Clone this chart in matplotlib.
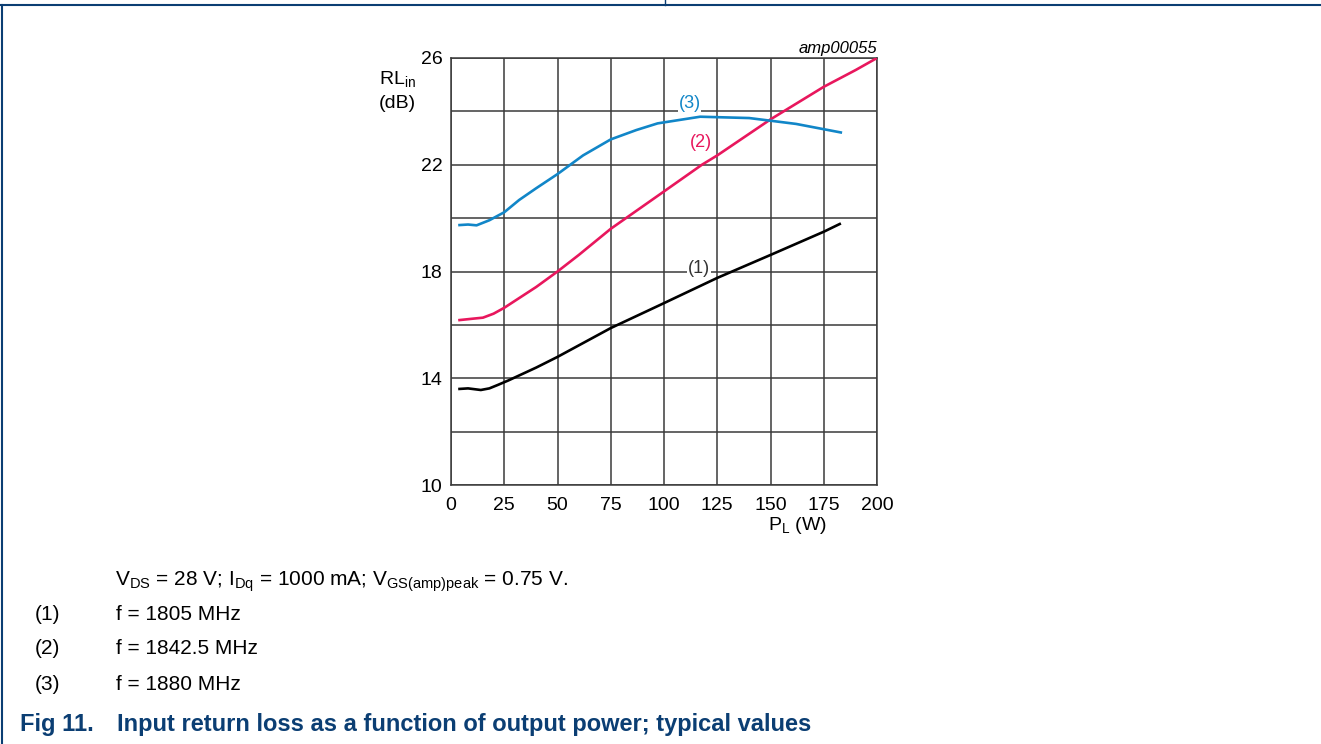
import matplotlib
matplotlib.use("Agg")
import matplotlib.pyplot as plt
from matplotlib.lines import Line2D

plt.rcParams["font.family"] = ["Liberation Sans", "DejaVu Sans"]
plt.rcParams["mathtext.fontset"] = "custom"
plt.rcParams["mathtext.rm"] = "Liberation Sans"
plt.rcParams["mathtext.it"] = "Liberation Sans:italic"

# Curves: P_L (W) vs RL_in (dB)
p1 = [4, 8, 14, 18, 22, 27, 40, 50, 75, 98, 125, 150, 175, 182.5]
rl1 = [13.6, 13.62, 13.56, 13.62, 13.75, 13.92, 14.4, 14.8, 15.88, 16.74, 17.76, 18.62, 19.49, 19.78]

p2 = [4, 10, 15, 20, 25, 30, 40, 50, 60, 75, 100, 117.8, 125, 150, 175, 190, 200]
rl2 = [16.18, 16.23, 16.27, 16.42, 16.64, 16.9, 17.42, 18.0, 18.62, 19.6, 21.0, 22.0, 22.35, 23.7, 24.92, 25.55, 26.0]

p3 = [4, 8, 12, 18, 25, 32, 40, 50, 56, 62, 75, 87, 97, 117, 140, 162, 183]
rl3 = [19.74, 19.76, 19.73, 19.92, 20.22, 20.68, 21.12, 21.65, 22.0, 22.35, 22.95, 23.3, 23.55, 23.8, 23.75, 23.53, 23.21]

x_ticks = [0, 25, 50, 75, 100, 125, 150, 175, 200]
y_ticks = [10, 14, 18, 22, 26]

navy = "#0b3e73"
c1, c2, c3 = "#000000", "#e8175d", "#1186c8"

fig = plt.figure(figsize=(13.21, 7.44), dpi=100)
ax = fig.add_axes([451 / 1321, 1 - 485 / 744, 426 / 1321, 427 / 744])

ax.plot(p1, rl1, color=c1, lw=1.9, zorder=3)
ax.plot(p2, rl2, color=c2, lw=1.9, zorder=3)
ax.plot(p3, rl3, color=c3, lw=1.9, zorder=3)

ax.set_xlim(0, 200)
ax.set_ylim(10, 26)
ax.set_xticks(x_ticks)
ax.set_yticks(y_ticks)
ax.set_yticks(range(10, 27, 2), minor=True)
ax.grid(True, which="both", color="#3a3a3a", lw=1.1)
ax.set_axisbelow(True)
ax.tick_params(length=0, labelsize=14, pad=6, which="both")
ax.tick_params(axis="x", pad=9)
for s in ax.spines.values():
    s.set_color("#3a3a3a")
    s.set_linewidth(1.1)

# curve labels
bb = dict(facecolor="white", edgecolor="none", pad=0.5)
ax.text(116.5, 18.1, "(1)", color="#333333", fontsize=13, ha="center", va="center", bbox=bb, zorder=4)
ax.text(117.5, 22.85, "(2)", color=c2, fontsize=13, ha="center", va="center", zorder=4)
ax.text(112, 24.3, "(3)", color=c3, fontsize=13, ha="center", va="center", bbox=bb, zorder=4)

fig.text(416 / 1321, 1 - 79 / 744, r"RL$_\mathregular{in}$", fontsize=14, ha="right", va="center")
fig.text(416 / 1321, 1 - 103 / 744, "(dB)", fontsize=14, ha="right", va="center")
fig.text(877 / 1321, 1 - 48 / 744, "amp00055", fontsize=12, style="italic", ha="right", va="center")
fig.text(797 / 1321, 1 - 525 / 744, r"P$_\mathregular{L}$ (W)", fontsize=14, ha="center", va="center")

# caption
fig.text(115 / 1321, 1 - 582 / 744,
         r"V$_\mathregular{DS}$ = 28 V; I$_\mathregular{Dq}$ = 1000 mA; V$_\mathregular{GS(amp)peak}$ = 0.75 V.",
         fontsize=15, ha="left", va="center")
notes = ["f = 1805 MHz", "f = 1842.5 MHz", "f = 1880 MHz"]
for i, note in enumerate(notes):
    y = 1 - (614 + 35 * i) / 744
    fig.text(35 / 1321, y, "(%d)" % (i + 1), fontsize=15, ha="left", va="center")
    fig.text(116 / 1321, y, note, fontsize=15, ha="left", va="center")

fig.text(20 / 1321, 1 - 725 / 744, "Fig 11.", fontsize=17, weight="bold", color=navy, ha="left", va="center")
fig.text(117 / 1321, 1 - 725 / 744, "Input return loss as a function of output power; typical values",
         fontsize=17, weight="bold", color=navy, ha="left", va="center")

# page frame lines
fig.add_artist(Line2D([0, 1], [1 - 5 / 744, 1 - 5 / 744], color=navy, lw=1.5, transform=fig.transFigure))
fig.add_artist(Line2D([665 / 1321, 665 / 1321], [1 - 5 / 744, 1], color=navy, lw=1, transform=fig.transFigure))
fig.add_artist(Line2D([2 / 1321, 2 / 1321], [0, 1 - 5 / 744], color=navy, lw=1.5, transform=fig.transFigure))

fig.savefig("out.png", dpi=100)
